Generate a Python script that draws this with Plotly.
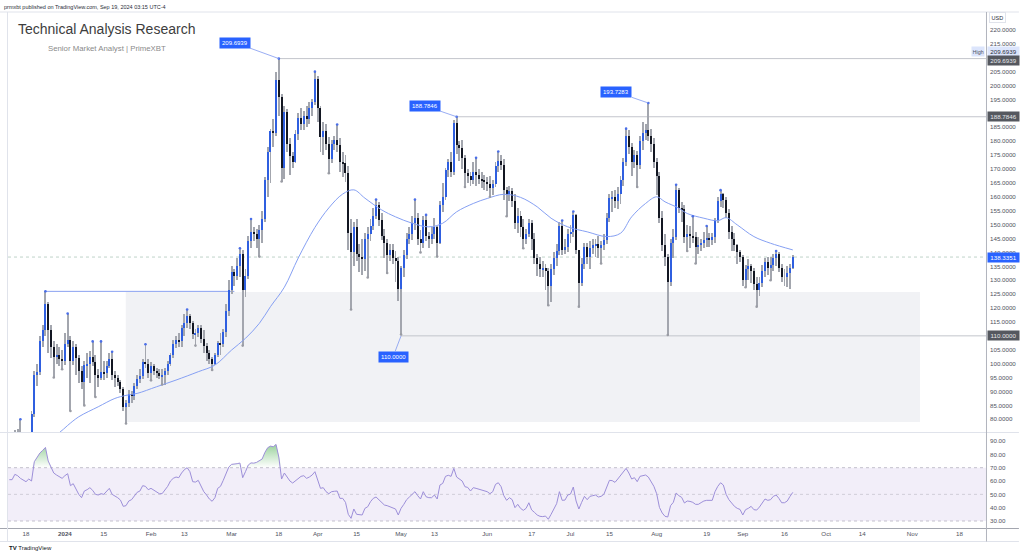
import plotly.graph_objects as go
import pandas as pd

# ---------------- DATA ----------------
start_date = "2023-12-12"       # first daily candle (partly below the visible range)
first_open = 69.5               # open of the first candle; later opens = previous close (24/7 market)

closes = [
    # Dec 12-31 2023
    70, 72, 74.5, 73.5, 73, 72.5, 71.5, 72.5, 82, 96, 97, 108, 112, 121.5, 112, 106, 102.5, 103, 101.5, 101,
    # Jan 2024
    107, 108.5, 101, 106, 102, 97.5, 93.5, 99.5, 100, 102.5, 100.5, 96, 95, 97, 96.5, 99, 101.5, 96, 95, 93.5,
    91, 84.5, 86, 89, 88.5, 92, 94.5, 95.5, 100.5, 100, 96.5,
    # Feb
    99, 97.5, 96.5, 95.5, 96, 97.5, 100, 103, 107, 108.5, 108, 113, 114.5, 117, 114.5, 110.5, 111, 113, 109, 106.5,
    104, 101.5, 100, 103, 107.5, 107, 111.5, 119, 126.5,
    # Mar
    133, 131.5, 135, 139.5, 126.5, 131.5, 144, 147.5, 146.5, 145, 148, 152, 166, 176, 183.5, 183, 202, 196, 170.5, 190.5,
    179, 174.5, 172.5, 182.5, 188.5, 186, 189, 188, 192, 194, 202.5,
    # Apr
    192, 181.5, 183.5, 179, 173.5, 179, 180.5, 178.5, 172.5, 172, 168.5, 147, 140, 149, 139.5, 138.5, 137.5, 145, 146.5, 149.5,
    153, 157, 151.5, 146, 143.5, 139, 141, 138, 137, 127,
    # May
    134.5, 139, 145, 146.5, 150.5, 152.5, 145, 143.5, 151.5, 146, 145, 146.5, 149, 143.5, 157, 160, 169.5, 172.5, 169, 186.5,
    178.5, 177.5, 174, 168.5, 167.5, 166, 169, 168, 166.5, 166, 165.5,
    # Jun
    164.5, 163, 164.5, 171, 173, 171.5, 162.5, 160.5, 162, 158.5, 150.5, 153, 149, 145, 146.5, 150.5, 145, 138, 136, 134,
    134.5, 133.5, 128, 134, 138, 140.5, 149.5, 141, 142, 146.5,
    # Jul
    147.5, 153.5, 141, 129, 136, 142, 138.5, 141.5, 142.5, 143, 141.5, 142.5, 144.5, 152.5, 159.5, 160, 158.5, 161, 166, 172.5,
    182, 178, 172.5, 175, 171.5, 180, 183, 184, 182, 179, 172.5,
    # Aug
    167.5, 152.5, 142.5, 138.5, 129.5, 143.5, 145.5, 162.5, 156, 155.5, 145.5, 146.5, 146, 145.5, 142, 142.5, 143.5, 144.5, 145, 144.5,
    145.5, 151.5, 158.5, 161, 159, 154, 147.5, 145, 142.5, 140, 138.5,
    # Sep 1-19
    130, 134, 135, 133.5, 128.5, 126.5, 129, 133.5, 136.5, 134.5, 135.5, 138, 139.5, 134.5, 131, 131, 132.5, 134.5, 138.3351,
]

highs = [
    73, 73.5, 76, 76.5, 80, 75, 74, 75.5, 83, 97.5, 100, 110, 114, 126, 122, 114, 108, 107, 106, 105,
    111, 118, 110, 108, 107, 103, 99, 101, 104, 104.5, 108, 103, 98, 108, 101, 101, 104, 104.3, 97.5, 96,
    94, 91.5, 87, 90.5, 90, 93, 96, 98, 101.5, 107, 101.5,
    100.5, 100, 98.5, 98, 98, 98.5, 101, 104, 108.5, 110, 111, 114, 118, 119.5, 118, 115.5, 112.5, 114, 114, 112,
    107.5, 105, 102.5, 104, 108, 111, 112.5, 121.5, 130,
    135, 134, 138, 141.5, 141, 134, 146, 152, 149, 148.5, 150, 155, 167, 178, 184.5, 188, 205, 209.6939, 197, 192.5,
    191.5, 181, 176, 184, 190, 192, 191, 192.5, 194, 195, 205,
    203.5, 192.5, 187, 186, 181.5, 180.5, 182, 186, 181, 176, 175, 171, 152, 151, 152, 143, 145, 147, 149, 152,
    156, 159, 158, 154, 148.5, 145, 143, 143, 140.5, 138.5,
    135, 141, 147, 149, 153, 159, 154, 148, 153, 153.5, 147.5, 149, 152.5, 149.5, 158.5, 165, 170.5, 173.5, 176, 187.5,
    188.7846, 180, 180.5, 175, 170, 169, 172.5, 174, 170, 169, 168,
    167, 167.5, 166, 172.5, 176.3, 175, 173.5, 163.5, 164, 163, 161, 156, 155, 152, 148.5, 152, 151.5, 147, 139.5, 138.5,
    137, 136, 134.5, 136, 140, 143, 151, 151.5, 145, 148.5,
    150, 154.7, 153.8, 141, 138, 143.5, 143.5, 144, 145, 145, 146, 144, 146.5, 154, 161, 162, 162.5, 163.5, 167.5, 174,
    184.5, 184, 179.5, 177, 176.5, 182, 187, 186, 193.7283, 184.5, 181,
    174, 169, 155, 146.5, 139.5, 145, 148.5, 164.3, 163.2, 158, 157, 150, 149.5, 153, 147.5, 145.5, 145, 147.5, 149.5, 147,
    147, 152.5, 160, 162.4, 161.5, 160, 155.5, 149.5, 147, 143, 141,
    139, 135.5, 137.5, 136, 134.5, 131, 131, 135.5, 138, 138.5, 138.5, 139.5, 140.5, 140, 136, 134, 135, 136, 139,
]

lows = [
    66, 67, 71, 71.5, 71.5, 71, 67.5, 70.5, 72, 81, 92, 96, 106, 110, 104, 102, 95, 100, 99, 98,
    99.5, 106, 83, 99.5, 96, 93, 91, 85, 95, 93, 99, 88, 91.5, 94, 94, 95, 98.5, 94, 91.5, 92,
    89.5, 83, 78.5, 84.5, 86, 87, 91, 93, 94.5, 98.5, 95,
    94, 96, 95, 94.5, 92.5, 92.5, 96, 99, 102, 105.5, 106, 106, 110, 113, 112.5, 109, 106.5, 109.5, 107.5, 104,
    101, 100, 97.7, 99.5, 102.5, 103, 106, 109.5, 117,
    125, 128, 130, 131, 106.5, 124, 130.5, 141.5, 144, 141.5, 138.5, 143.5, 151, 160, 165, 178, 182, 189, 165.5, 166.5,
    176, 168, 170.5, 172, 180.5, 184, 184, 185, 186, 189, 193,
    187, 176, 175, 177, 168.5, 172, 177, 176, 169, 167, 165.5, 141, 119.5, 135, 137, 133, 132, 133.5, 131, 144,
    148, 152, 149.5, 144.5, 138, 132.6, 137, 136, 129.5, 122.5,
    110.5, 131, 137.5, 143, 144.5, 148, 142.5, 140, 141.5, 144, 141.5, 143, 145, 138.5, 143, 154.5, 159, 167, 167, 168,
    175.5, 173, 170, 163.5, 165, 164, 164.5, 164, 164.5, 163, 162.5,
    162, 160, 160.5, 163.5, 169, 169.5, 159, 153, 158.5, 156.5, 148.5, 147, 145.5, 141.5, 143, 145.5, 141, 136, 131.5, 131,
    131, 126.5, 121, 122, 132, 135, 139, 139, 139.5, 140,
    143.5, 145.5, 139.5, 120.5, 128, 134, 136, 134, 139.5, 138.5, 138, 136, 141, 143, 151, 154.5, 156, 155.5, 157.5, 164,
    171, 175.5, 167.5, 170.5, 163.5, 170, 177, 180.5, 180, 176, 170.5,
    160.5, 150.5, 140.5, 135, 110.3, 128, 138, 144.5, 154, 151, 143.5, 140.5, 141.5, 143.5, 136, 139.5, 140.5, 141.5, 142, 142,
    142.5, 143.5, 150.5, 156.5, 156, 152.5, 145, 140.5, 140.5, 136, 136.5,
    128, 127.5, 130, 129, 126.5, 120.5, 124.5, 127.5, 131, 132, 130, 133.5, 135, 133, 129.5, 128, 127.5, 127, 134,
]

rsi_vals = [
    61, 61, 65, 64, 62, 61, 59.5, 61.5, 60, 74.5, 78, 81, 83, 85.2, 75, 71, 66, 64.5, 63.5, 62,
    64, 65.5, 56.5, 58, 54, 50, 47.5, 52.5, 53.5, 55, 53, 50, 49.5, 50.5, 50, 52, 54.5, 50, 49, 47.5,
    45.7, 41, 41.5, 45, 46, 48.5, 51.5, 52.5, 56.5, 56, 53.5,
    54.5, 53, 51.5, 50.5, 50.5, 53.5, 56, 60, 62, 63, 62.5, 66, 68.5, 70, 67, 59.5, 59.2, 60.5, 56, 52,
    49.5, 46.5, 44.8, 47.5, 54.5, 56, 60.5, 66, 70.5,
    72.5, 72.6, 73, 73.5, 62.5, 67, 72, 73.6, 73.4, 74, 75.5, 76.5, 81.5, 85, 86.2, 85.7, 87.5, 78, 61.5, 66,
    63, 60, 58.5, 60, 62, 63.5, 64, 62, 63, 64.5, 67,
    60, 54.5, 55, 52, 50.5, 52, 52.3, 52.5, 47, 47, 44, 35, 32, 39, 35, 34.5, 34.5, 39.5, 40.7, 44.5,
    47, 48, 46, 44.5, 42, 41.5, 40.7, 40, 39, 34.5,
    39.5, 42.5, 46, 48, 50, 52, 49, 46.5, 52, 48.2, 47.5, 47.5, 49.5, 46.5, 57, 58.2, 63.5, 64.3, 63.5, 69.5,
    63, 61.5, 60, 55.7, 55.2, 52.5, 55, 54.5, 54, 53.5, 52.7,
    52, 50.5, 52, 57.5, 58.7, 55.8, 49, 45.5, 47.5, 46, 40, 42.5, 39.5, 38, 39.5, 43.7, 38.3, 36.5, 34.5, 33.5,
    33.3, 33.7, 31.3, 35, 39.5, 43, 52, 45.5, 45.7, 49.5,
    50.2, 55.5, 45, 39, 44, 48.5, 46, 48.5, 49, 49.5, 48, 48.5, 50, 56, 60.5, 60.3, 59, 61.5, 64, 67,
    69.5, 66, 61.5, 62.5, 59.5, 63.5, 64.2, 64.5, 63, 59, 56,
    50.5, 40.2, 36, 33.5, 33, 41.5, 44, 51, 49, 47.7, 43.5, 45, 44.7, 44, 42.5, 42.5, 43.8, 45, 45.5, 45.3,
    45.5, 52, 56, 58.7, 57, 50, 46, 43.5, 41, 39.5, 38.7,
    34.5, 38.5, 39.5, 41, 38.5, 38.2, 40.5, 44, 46.5, 45.5, 46, 48.5, 49.5, 47, 43.7, 43.7, 45, 48.5, 51.5,
]

ma_dates = [
    "2023-12-26", "2023-12-30", "2024-01-02", "2024-01-06", "2024-01-13", "2024-01-19", "2024-01-23", "2024-01-27",
    "2024-02-03", "2024-02-10", "2024-02-18", "2024-02-24", "2024-03-01", "2024-03-06", "2024-03-11", "2024-03-15",
    "2024-03-20", "2024-03-25", "2024-03-31", "2024-04-05", "2024-04-10", "2024-04-14", "2024-04-18", "2024-04-24",
    "2024-04-29", "2024-05-05", "2024-05-11", "2024-05-16", "2024-05-21", "2024-05-27", "2024-06-01", "2024-06-07",
    "2024-06-13", "2024-06-19", "2024-06-24", "2024-06-30", "2024-07-07", "2024-07-14", "2024-07-19", "2024-07-23",
    "2024-07-28", "2024-08-01", "2024-08-04", "2024-08-09", "2024-08-12", "2024-08-18", "2024-08-23", "2024-08-26",
    "2024-08-30", "2024-09-05", "2024-09-11", "2024-09-19",
]
ma_vals = [
    73.0, 75.2, 77.8, 80.9, 84.5, 87.5, 88.6, 89.3,
    91.7, 94.1, 97.1, 99.5, 104.9, 109.1, 114.5, 120.5,
    127.5, 138.0, 149.0, 156.0, 161.0, 162.5, 159.5, 155.3,
    152.8, 150.5, 149.2, 150.5, 154.6, 157.6, 159.4, 160.9,
    159.8, 156.4, 152.3, 149.2, 147.4, 145.7, 146.9, 152.8,
    157.6, 160.0, 158.2, 155.9, 154.0, 152.3, 151.4, 152.5,
    149.9, 145.7, 143.3, 140.9,
]

# 210.0000 is hidden behind the level labels in the reference, so it is not listed
price_ticks = [80, 85, 90, 95, 100, 105, 110, 115, 120, 125, 130, 135, 140, 145, 150, 155, 160, 165, 170, 175,
               180, 185, 190, 195, 200, 205, 215, 220]
rsi_ticks = [30, 40, 50, 60, 70, 80, 90]
time_tick_dates = ["2023-12-18", "2024-01-01", "2024-01-15", "2024-02-01", "2024-02-13", "2024-03-01", "2024-03-18",
                   "2024-04-01", "2024-04-15", "2024-05-01", "2024-05-13", "2024-06-01", "2024-06-17", "2024-07-01",
                   "2024-07-15", "2024-08-01", "2024-08-19", "2024-09-01", "2024-09-16", "2024-10-01", "2024-10-14",
                   "2024-11-01", "2024-11-18"]
time_tick_text = ["18", "<b>2024</b>", "15", "Feb", "13", "Mar", "18", "Apr", "15", "May", "13", "Jun", "17", "Jul",
                  "15", "Aug", "19", "Sep", "16", "Oct", "14", "Nov", "18"]

# marked levels
high_a = ("2024-03-18", 209.6939)
high_b = ("2024-05-21", 188.7846)
high_c = ("2024-07-29", 193.7283)
low_a = ("2024-05-01", 110.0)
last_price = 138.3351
dec_high = ("2023-12-25", 126.0)
zone_low, zone_high = 79.0, 125.8

# ---------------- derived series ----------------
assert len(highs) == len(closes) == len(lows) == len(rsi_vals)
dates = pd.date_range(start_date, periods=len(closes), freq="D")
opens = [first_open] + closes[:-1]
DAY = 86400000

UP = "#2f5fe0"
DOWN = "#131722"
WICK = "#a3a6ae"
FONT = "Liberation Sans, Arial, sans-serif"

body_base = [min(o, c) for o, c in zip(opens, closes)]
body_h = [abs(c - o) for o, c in zip(opens, closes)]
body_col = [UP if c >= o else DOWN for o, c in zip(opens, closes)]
wick_h = [h - l for h, l in zip(highs, lows)]

# Williams-style fractal dots
fu_x, fu_y, fd_x, fd_y = [], [], [], []
n = len(closes)
for i in range(2, n - 2):
    if highs[i] > max(highs[i - 2:i]) and highs[i] >= max(highs[i + 1:i + 3]):
        fu_x.append(dates[i]); fu_y.append(highs[i])
    if lows[i] < min(lows[i - 2:i]) and lows[i] <= min(lows[i + 1:i + 3]):
        fd_x.append(dates[i]); fd_y.append(lows[i])

rsi_over = [max(v, 70) for v in rsi_vals]

X0, X1 = "2023-12-11 12:37", "2024-11-27 12:58"

fig = go.Figure()

# wicks and bodies
fig.add_trace(go.Bar(x=dates, y=wick_h, base=lows, width=0.33 * DAY,
                     marker=dict(color=WICK, line=dict(width=0)), xaxis="x", yaxis="y"))
fig.add_trace(go.Bar(x=dates, y=body_h, base=body_base, width=0.72 * DAY,
                     marker=dict(color=body_col, line=dict(width=0)), xaxis="x", yaxis="y"))
# moving average
fig.add_trace(go.Scatter(x=pd.to_datetime(ma_dates), y=ma_vals, mode="lines",
                         line=dict(color="#86a0f3", width=1, shape="spline"), xaxis="x", yaxis="y"))
# fractal dots
fig.add_trace(go.Scatter(x=fu_x, y=fu_y, mode="markers", marker=dict(size=2.6, color="#4a6ee8"), xaxis="x", yaxis="y"))
fig.add_trace(go.Scatter(x=fd_x, y=fd_y, mode="markers", marker=dict(size=2.6, color="#9a9ca4"), xaxis="x", yaxis="y"))

# RSI overbought gradient fill
fig.add_trace(go.Scatter(x=dates, y=[70] * n, mode="lines", line=dict(width=0, color="rgba(0,0,0,0)"),
                         xaxis="x2", yaxis="y2"))
fig.add_trace(go.Scatter(x=dates, y=rsi_over, mode="lines", line=dict(width=0, color="rgba(0,0,0,0)"),
                         fill="tonexty",
                         fillgradient=dict(type="vertical", start=70, stop=90,
                                           colorscale=[[0, "rgba(76,175,80,0.0)"], [1, "rgba(76,175,80,0.65)"]]),
                         xaxis="x2", yaxis="y2"))
# RSI line
fig.add_trace(go.Scatter(x=dates, y=rsi_vals, mode="lines", line=dict(color="#9d8fd9", width=1),
                         xaxis="x2", yaxis="y2"))

def py(p):  # pixel row -> paper y
    return (528 - p) / 516

def px(p):  # pixel col -> paper x
    return (p - 8) / 980

shapes = [
    # demand zone
    dict(type="rect", xref="x", yref="y", x0="2024-01-22 22:00", x1="2024-11-03 19:00",
         y0=zone_low, y1=zone_high, fillcolor="#f1f2f5", line=dict(width=0), layer="below"),
    # trend line from December high
    dict(type="line", xref="x", yref="y", x0=dec_high[0], x1="2024-03-02", y0=dec_high[1], y1=dec_high[1],
         line=dict(color="#8ba2f0", width=1), layer="below"),
    # horizontal levels
    dict(type="line", xref="x", yref="y", x0=high_a[0], x1=X1, y0=high_a[1], y1=high_a[1],
         line=dict(color="#c3c5cc", width=1), layer="below"),
    dict(type="line", xref="x", yref="y", x0=high_b[0], x1=X1, y0=high_b[1], y1=high_b[1],
         line=dict(color="#c3c5cc", width=1), layer="below"),
    dict(type="line", xref="x", yref="y", x0=low_a[0], x1=X1, y0=low_a[1], y1=low_a[1],
         line=dict(color="#c3c5cc", width=1), layer="below"),
    # last price line
    dict(type="line", xref="x", yref="y", x0=X0, x1=X1, y0=last_price, y1=last_price,
         line=dict(color="rgba(130,170,150,0.5)", width=1, dash="dot"), layer="below"),
    # RSI band and levels
    dict(type="rect", xref="paper", yref="y2", x0=0, x1=1, y0=30, y1=70,
         fillcolor="rgba(126,87,194,0.10)", line=dict(width=0), layer="below"),
    dict(type="line", xref="paper", yref="y2", x0=0, x1=1, y0=70, y1=70,
         line=dict(color="#c2bfcc", width=1, dash="dot"), layer="below"),
    dict(type="line", xref="paper", yref="y2", x0=0, x1=1, y0=50, y1=50,
         line=dict(color="#d0cdd9", width=1, dash="dot"), layer="below"),
    dict(type="line", xref="paper", yref="y2", x0=0, x1=1, y0=30, y1=30,
         line=dict(color="#c2bfcc", width=1, dash="dot"), layer="below"),
    # frame
    dict(type="line", xref="paper", yref="paper", x0=px(0), x1=px(1021), y0=py(12), y1=py(12),
         line=dict(color="#e0e3eb", width=1)),
    dict(type="line", xref="paper", yref="paper", x0=px(0), x1=px(1021), y0=py(432.5), y1=py(432.5),
         line=dict(color="#e0e3eb", width=1)),
    dict(type="line", xref="paper", yref="paper", x0=px(0), x1=px(1021), y0=py(528.5), y1=py(528.5),
         line=dict(color="#a3a6af", width=1)),
    dict(type="line", xref="paper", yref="paper", x0=px(0), x1=px(1021), y0=py(541.5), y1=py(541.5),
         line=dict(color="#e0e3eb", width=1)),
    dict(type="line", xref="paper", yref="paper", x0=px(988.5), x1=px(988.5), y0=py(12), y1=py(541.5),
         line=dict(color="#b2b5be", width=1)),
    dict(type="line", xref="paper", yref="paper", x0=px(7.5), x1=px(7.5), y0=py(12), y1=py(541.5),
         line=dict(color="#e0e3eb", width=1)),
]

ann = []
ann.append(dict(xref="paper", yref="paper", x=px(2), y=py(7), xanchor="left", yanchor="middle", showarrow=False,
                text="prmxbt published on TradingView.com, Sep 19, 2024 03:15 UTC-4",
                font=dict(size=5.5, color="#2a2e39", family=FONT)))
ann.append(dict(xref="paper", yref="paper", x=px(107), y=py(29.5), xanchor="center", yanchor="middle", showarrow=False,
                text="Technical Analysis Research", font=dict(size=14, color="#3d3d3d", family=FONT)))
ann.append(dict(xref="paper", yref="paper", x=px(107), y=py(48.3), xanchor="center", yanchor="middle", showarrow=False,
                text="Senior Market Analyst | PrimeXBT", font=dict(size=7.8, color="#8a8a8a", family=FONT)))
ann.append(dict(xref="paper", yref="paper", x=px(7), y=py(547.5), xanchor="left", yanchor="middle", showarrow=False,
                text="<b>TV</b> TradingView", font=dict(size=6, color="#131722", family=FONT)))

# point labels with connector lines
for (d, v), axp, ayp in [(high_a, -44, -16), (high_b, -32, -11), (high_c, -32, -11), (low_a, -8, 21)]:
    ann.append(dict(xref="x", yref="y", x=d, y=v, ax=axp, ay=ayp, showarrow=True, arrowhead=0, arrowwidth=0.8,
                    arrowcolor="#7f98f0", text=f"{v:.4f}", bgcolor="#2962ff", borderpad=2,
                    font=dict(size=6, color="white", family=FONT)))

# price-scale boxes
def axis_box(y, text, bg, fg, yref="y"):
    return dict(xref="paper", yref=yref, x=1, y=y, xanchor="left", yanchor="middle", xshift=1, showarrow=False,
                text=text, bgcolor=bg, width=30, height=8, borderpad=0.5, font=dict(size=6.2, color=fg, family=FONT))

ann.append(axis_box(py(51.5), f"{high_a[1]:.4f}", "#dce5fc", "#2a2e39", yref="paper"))
ann.append(dict(xref="paper", yref="paper", x=1, y=py(51.5), xanchor="right", yanchor="middle", xshift=-1,
                showarrow=False, text="High", bgcolor="#dce5fc", height=8, borderpad=0.5,
                font=dict(size=5.5, color="#50535e", family=FONT)))
ann.append(axis_box(py(60), f"{high_a[1]:.4f}", "#55585f", "#e8e9ec", yref="paper"))
ann.append(axis_box(high_b[1], f"{high_b[1]:.4f}", "#55585f", "#e8e9ec"))
ann.append(axis_box(low_a[1], f"{low_a[1]:.4f}", "#55585f", "#e8e9ec"))
ann.append(axis_box(last_price, f"{last_price:.4f}", "#2962ff", "white"))
ann.append(dict(xref="paper", yref="paper", x=1, y=py(17.5), xanchor="left", yanchor="middle", xshift=3,
                showarrow=False, text="USD", bordercolor="#e0e3eb", borderwidth=1, borderpad=1.5,
                font=dict(size=5.5, color="#2a2e39", family=FONT)))

tickfont = dict(size=6.2, color="#50535e", family=FONT)

fig.update_layout(
    width=1024, height=555,
    margin=dict(l=8, r=36, t=12, b=27),
    paper_bgcolor="white", plot_bgcolor="white",
    showlegend=False, hovermode=False,
    barmode="overlay", bargap=0,
    font=dict(family=FONT),
    xaxis=dict(domain=[0, 1], anchor="y", type="date", range=[X0, X1], showgrid=False, zeroline=False,
               showticklabels=False, showline=False, ticks=""),
    yaxis=dict(domain=[0.186, 1], anchor="x", side="right", range=[75.42, 226.45], showgrid=False, zeroline=False,
               tickvals=price_ticks, ticktext=[f"{v:.4f}" for v in price_ticks], ticks="", tickfont=tickfont,
               ticklabelstandoff=3, showline=False),
    xaxis2=dict(domain=[0, 1], anchor="y2", type="date", range=[X0, X1], showgrid=False, zeroline=False,
                tickvals=pd.to_datetime(time_tick_dates), ticktext=time_tick_text, ticks="", tickfont=tickfont,
                showline=False, ticklabelstandoff=1),
    yaxis2=dict(domain=[0, 0.184], anchor="x2", side="right", range=[24.74, 96], showgrid=False, zeroline=False,
                tickvals=rsi_ticks, ticktext=[f"{v:.2f}" for v in rsi_ticks], ticks="", tickfont=tickfont,
                ticklabelstandoff=3, showline=False),
    shapes=shapes,
    annotations=ann,
)

fig.write_html("out.html")
